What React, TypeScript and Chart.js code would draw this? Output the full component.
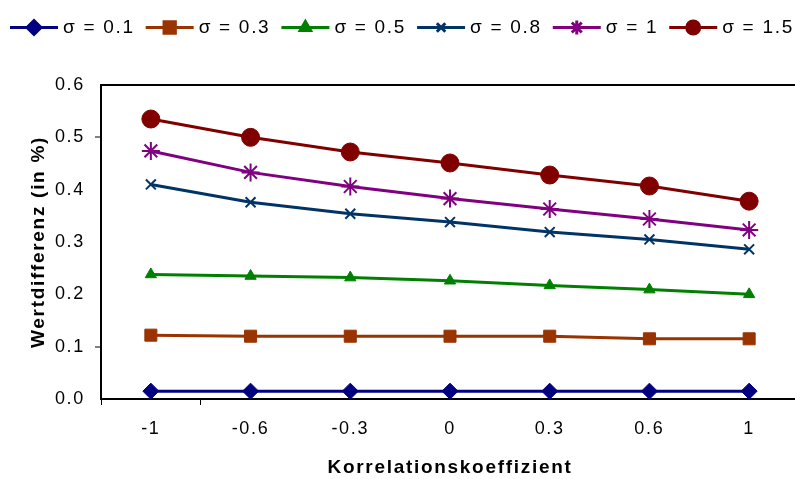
import React, { useEffect, useRef } from 'react';
import { Chart, registerables } from 'chart.js';
import { drawPoint } from 'chart.js/helpers';

Chart.register(...registerables);

const categories = ['-1', '-0.6', '-0.3', '0', '0.3', '0.6', '1'];
const sigma01 = [0.015, 0.015, 0.015, 0.015, 0.015, 0.015, 0.015];
const sigma03 = [0.122, 0.12, 0.12, 0.12, 0.12, 0.115, 0.115];
const sigma05 = [0.238, 0.235, 0.232, 0.226, 0.217, 0.209, 0.2];
const sigma08 = [0.41, 0.376, 0.354, 0.338, 0.319, 0.305, 0.286];
const sigma10 = [0.474, 0.433, 0.406, 0.383, 0.363, 0.344, 0.323];
const sigma15 = [0.535, 0.5, 0.472, 0.451, 0.428, 0.407, 0.378];

const seriesLabels = ['σ = 0.1', 'σ = 0.3', 'σ = 0.5', 'σ = 0.8', 'σ = 1', 'σ = 1.5'];
const seriesData = [sigma01, sigma03, sigma05, sigma08, sigma10, sigma15];
const seriesColors = ['#000080', '#993300', '#008000', '#003366', '#800080', '#800000'];
const seriesStyles = ['rectRot', 'rect', 'triangle', 'crossRot', 'star', 'circle'];
const seriesRadii = [8, 8.5, 6.5, 7, 9, 9];
const legendRadii = [7, 8, 6, 6, 7, 6.5];

const yTitle = 'Wertdifferenz (in %)';
const xTitle = 'Korrelationskoeffizient';

const FONT = '"Liberation Sans", Arial, sans-serif';
const near = (a: number | undefined, b: number) => a !== undefined && Math.abs(a - b) < 1e-6;

const spacingPlugin = {
  id: 'spacing',
  beforeDraw(chart: any) {
    chart.ctx.letterSpacing = '1.7px';
  },
};

const legendPlugin = {
  id: 'customLegend',
  afterDraw(chart: any) {
    const ctx = chart.ctx;
    ctx.save();
    ctx.letterSpacing = '1.7px';
    ctx.font = `19px ${FONT}`;
    ctx.textBaseline = 'alphabetic';
    ctx.textAlign = 'left';
    let x = 10;
    const lineY = 27.5;
    seriesLabels.forEach((label, i) => {
      ctx.strokeStyle = seriesColors[i];
      ctx.lineWidth = 3;
      ctx.beginPath();
      ctx.moveTo(x, lineY);
      ctx.lineTo(x + 48, lineY);
      ctx.stroke();
      ctx.fillStyle = seriesColors[i];
      drawPoint(ctx, {
        pointStyle: seriesStyles[i] as any,
        radius: legendRadii[i],
        rotation: 0,
        borderWidth: 1.5,
      } as any, x + 24, lineY);
      ctx.fillStyle = '#000';
      ctx.fillText(label, x + 53, 32.5);
      const w = ctx.measureText(label).width;
      x = x + 53 + w + 11;
    });
    ctx.restore();
  },
};

export default function App() {
  const ref = useRef<HTMLCanvasElement>(null);
  useEffect(() => {
    if (!ref.current) return;
    const chart = new Chart(ref.current, {
      type: 'line',
      data: {
        labels: categories,
        datasets: seriesData.map((d, i) => ({
          label: seriesLabels[i],
          data: d,
          borderColor: seriesColors[i],
          backgroundColor: seriesColors[i],
          pointBackgroundColor: seriesColors[i],
          pointBorderColor: seriesColors[i],
          pointStyle: seriesStyles[i] as any,
          pointRadius: seriesRadii[i],
          pointBorderWidth: seriesStyles[i] === 'crossRot' || seriesStyles[i] === 'star' ? 2 : 1,
          borderWidth: 3,
          tension: 0,
          fill: false,
        })),
      },
      options: {
        responsive: false,
        animation: false,
        devicePixelRatio: 1,
        layout: { padding: { left: 0, top: 85, right: 11, bottom: 0 } },
        plugins: {
          legend: { display: false },
          tooltip: { enabled: false },
        },
        scales: {
          x: {
            type: 'category',
            offset: true,
            afterFit: (s: any) => { s.height = 80; },
            border: { display: true, color: '#000', width: 2 },
            grid: {
              offset: true,
              drawOnChartArea: false,
              drawTicks: true,
              tickLength: 6,
              tickWidth: 1,
              tickColor: (c: any) => (c.index <= 1 ? '#000' : 'rgba(0,0,0,0)'),
            },
            ticks: {
              color: '#000',
              font: { family: FONT, size: 18 },
              padding: 13,
              maxRotation: 0,
            },
            title: {
              display: true,
              text: xTitle,
              color: '#000',
              font: { family: FONT, size: 19, weight: 'bold' },
              padding: { top: 0, bottom: 0 },
            },
          },
          y: {
            type: 'linear',
            min: 0,
            max: 0.6,
            afterFit: (s: any) => { s.width = 101; },
            border: { display: true, color: '#000', width: 2 },
            grid: {
              drawOnChartArea: true,
              color: (c: any) => (near(c.tick?.value, 0.6) ? '#000' : 'rgba(0,0,0,0)'),
              lineWidth: 2,
              tickLength: 6,
              tickWidth: 1,
              tickColor: (c: any) =>
                near(c.tick?.value, 0.1) || near(c.tick?.value, 0.5) ? '#000' : 'rgba(0,0,0,0)',
            },
            ticks: {
              stepSize: 0.1,
              color: '#000',
              font: { family: FONT, size: 18 },
              padding: 10,
              callback: (v: any) => Number(v).toFixed(1),
            },
            title: {
              display: true,
              text: yTitle,
              color: '#000',
              font: { family: FONT, size: 19, weight: 'bold' },
              padding: { top: 27, bottom: 0 },
            },
          },
        },
      },
      plugins: [spacingPlugin, legendPlugin],
    });
    return () => chart.destroy();
  }, []);

  return (
    <div style={{ position: 'fixed', left: 0, top: 0, width: 795, height: 479, overflow: 'hidden', background: '#fff' }}>
      <canvas ref={ref} width={810} height={479} style={{ display: 'block', width: 810, height: 479 }} />
    </div>
  );
}
